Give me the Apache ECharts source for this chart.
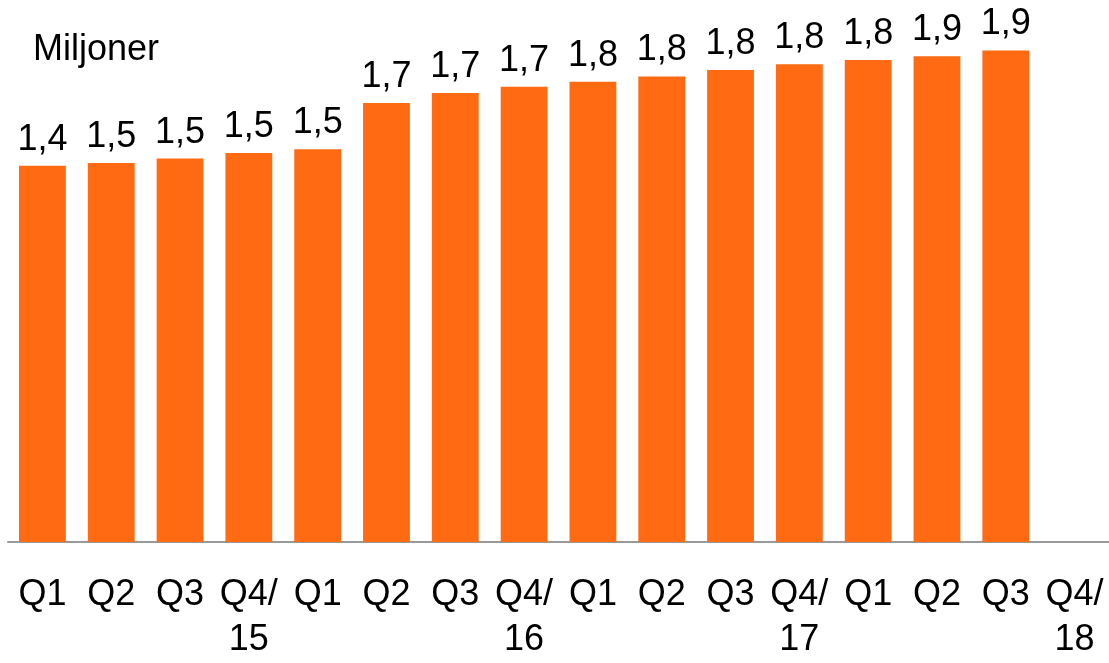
<!DOCTYPE html>
<html>
<head>
<meta charset="utf-8">
<script src="https://cdn.jsdelivr.net/npm/echarts@6/dist/echarts.min.js"></script>
<style>
	html, body { margin: 0; padding: 0; background: #fff; }
	#chart { width: 1109px; height: 663px; }
</style>
</head>
<body>
<div id="chart"></div>
<script>
	// quarters, last one (Q4/18) has no value yet
	var categories = ['Q1', 'Q2', 'Q3', 'Q4/\n15', 'Q1', 'Q2', 'Q3', 'Q4/\n16',
		'Q1', 'Q2', 'Q3', 'Q4/\n17', 'Q1', 'Q2', 'Q3', 'Q4/\n18']
	var values = [1.442, 1.452, 1.469, 1.490, 1.505, 1.682, 1.720, 1.744,
		1.763, 1.784, 1.808, 1.830, 1.847, 1.861, 1.883, null]
	var unitLabel = 'Miljoner'

	var barColor = '#ff6a13'
	var fontFamily = '"Liberation Sans", Arial, sans-serif'

	function fmt(v) {
		return v.toFixed(1).replace('.', ',')
	}

	var chart = echarts.init(document.getElementById('chart'))

	chart.setOption({
		animation: false,
		title: {
			text: unitLabel,
			left: 28,
			top: 27,
			textStyle: {
				fontFamily: fontFamily,
				fontSize: 36,
				fontWeight: 'normal',
				color: '#000'
			}
		},
		grid: {
			left: 8,
			right: 0,
			top: 20,
			bottom: 115
		},
		xAxis: {
			type: 'category',
			data: categories,
			axisTick: { show: false },
			axisLine: {
				lineStyle: { color: '#999', width: 2 }
			},
			axisLabel: {
				interval: 0,
				margin: 31,
				fontFamily: fontFamily,
				fontSize: 36,
				lineHeight: 45,
				color: '#000',
				align: 'center'
			}
		},
		yAxis: {
			type: 'value',
			min: 0,
			max: 2,
			show: false,
			splitLine: { show: false }
		},
		series: [{
			type: 'bar',
			data: values,
			barCategoryGap: '32%',
			itemStyle: { color: barColor },
			label: {
				show: true,
				position: 'top',
				distance: 8,
				fontFamily: fontFamily,
				fontSize: 36,
				color: '#000',
				formatter: function (p) { return fmt(p.value) }
			}
		}]
	})
</script>
</body>
</html>
